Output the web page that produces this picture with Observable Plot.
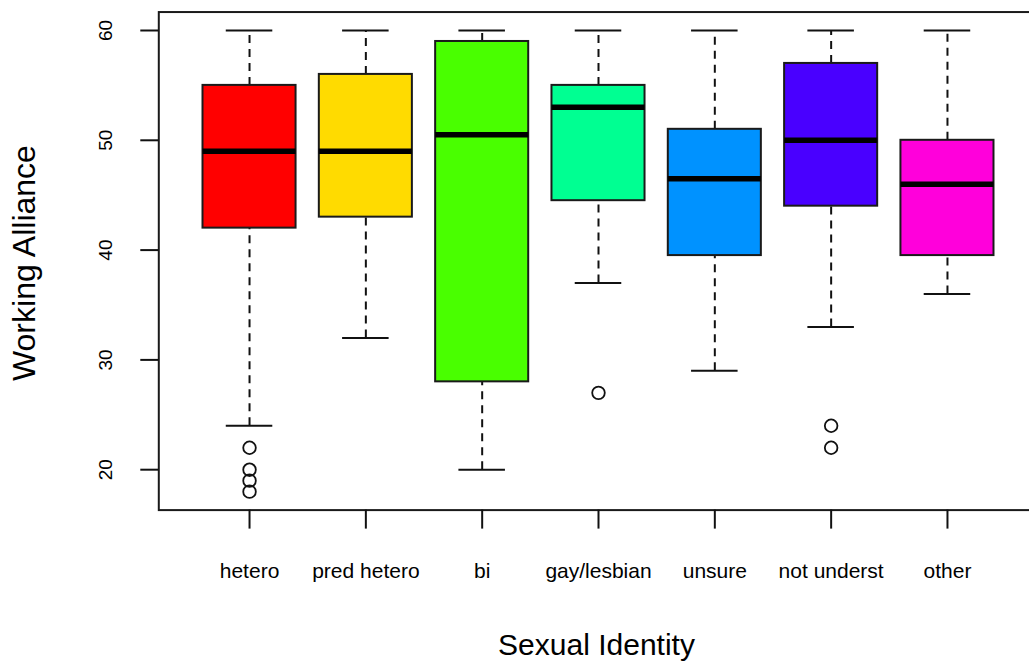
<!DOCTYPE html>
<html>
<head>
<meta charset="utf-8">
<script src="https://cdn.jsdelivr.net/npm/d3@7"></script>
<script src="https://cdn.jsdelivr.net/npm/@observablehq/plot@0.6"></script>
<style>
  html, body { margin: 0; padding: 0; background: #fff; }
  svg { display: block; }
</style>
</head>
<body>
<div id="chart"></div>
<script>
// Categories and five-number summaries
const categories = ["hetero", "pred hetero", "bi", "gay/lesbian", "unsure", "not underst", "other"];
const colors = ["#FF0000", "#FFDB00", "#49FF00", "#00FF92", "#0092FF", "#4900FF", "#FF00DB"];
const whiskerLow = [24, 32, 20, 37, 29, 33, 36];
const q1 = [42, 43, 28, 44.5, 39.5, 44, 39.5];
const median = [49, 49, 50.5, 53, 46.5, 50, 46];
const q3 = [55, 56, 59, 55, 51, 57, 50];
const whiskerHigh = [60, 60, 60, 60, 60, 60, 60];
const outlierCategory = ["hetero", "hetero", "hetero", "hetero", "gay/lesbian", "not underst", "not underst"];
const outlierValue = [22, 20, 19, 18, 27, 24, 22];
const yTicks = [20, 30, 40, 50, 60];
const xTitle = "Sexual Identity";
const yTitle = "Working Alliance";

const boxes = categories.map((c, i) => ({
  cat: c, color: colors[i], lo: whiskerLow[i], q1: q1[i], med: median[i], q3: q3[i], hi: whiskerHigh[i]
}));
const outliers = outlierValue.map((v, i) => ({cat: outlierCategory[i], v}));

// R-style axis extension (4% on each side)
const allVals = [...whiskerLow, ...whiskerHigh, ...outlierValue];
const vmin = d3.min(allVals), vmax = d3.max(allVals);
const ext = (vmax - vmin) * 0.04;

const W = 1029, H = 661;
const marginLeft = 158.3;
const plotW = 879.4;
const bw = plotW / (categories.length + 0.56) * 0.8;

const font = "'Liberation Sans', Arial, sans-serif";

const chart = Plot.plot({
  width: W,
  height: H,
  marginLeft: marginLeft,
  marginRight: W - marginLeft - plotW,
  marginTop: 11.55,
  marginBottom: 151.4,
  style: {fontFamily: font, background: "#fff", color: "#000"},
  x: {type: "band", domain: categories, paddingInner: 0.2, paddingOuter: 0.38, align: 0.5, round: false, axis: null},
  y: {domain: [vmin - ext, vmax + ext], nice: false, axis: null},
  color: {type: "identity"},
  marks: [
    // whiskers (dashed)
    Plot.ruleX(boxes, {x: "cat", y1: "q3", y2: "hi", stroke: "#111", strokeWidth: 2, strokeDasharray: "8,6"}),
    Plot.ruleX(boxes, {x: "cat", y1: "lo", y2: "q1", stroke: "#111", strokeWidth: 2, strokeDasharray: "8,6"}),
    // caps
    Plot.tickY(boxes, {x: "cat", y: "hi", stroke: "#111", strokeWidth: 2, insetLeft: bw / 4, insetRight: bw / 4}),
    Plot.tickY(boxes, {x: "cat", y: "lo", stroke: "#111", strokeWidth: 2, insetLeft: bw / 4, insetRight: bw / 4}),
    // boxes
    Plot.barY(boxes, {x: "cat", y1: "q1", y2: "q3", fill: "color", stroke: "#1a1a1a", strokeWidth: 2, inset: 0}),
    // medians
    Plot.tickY(boxes, {x: "cat", y: "med", stroke: "#000", strokeWidth: 5.5}),
    // outliers
    Plot.dot(outliers, {x: "cat", y: "v", r: 6.3, stroke: "#111", strokeWidth: 1.8, fill: "none"}),
    // frame
    Plot.frame({stroke: "#1a1a1a", strokeWidth: 2}),
    // axes
    Plot.axisX(categories, {tickSize: 19, tickPadding: 34, fontSize: 21, label: null, stroke: "#111", strokeWidth: 2}),
    Plot.axisY(yTicks, {tickSize: 18, tickFormat: () => "", label: null, stroke: "#111", strokeWidth: 2}),
    Plot.text(yTicks, {y: d => d, text: d => String(d), frameAnchor: "left", dx: -53, rotate: -90, fontSize: 19, textAnchor: "middle", lineAnchor: "middle", fill: "#000"}),
    // axis titles
    Plot.text([xTitle], {frameAnchor: "bottom", dx: -2, dy: 135, fontSize: 30, textAnchor: "middle", lineAnchor: "middle", fill: "#000"}),
    Plot.text([yTitle], {frameAnchor: "left", dx: -134, dy: 2, rotate: -90, fontSize: 32, textAnchor: "middle", lineAnchor: "middle", fill: "#000"})
  ]
});
document.getElementById("chart").appendChild(chart);
</script>
</body>
</html>
